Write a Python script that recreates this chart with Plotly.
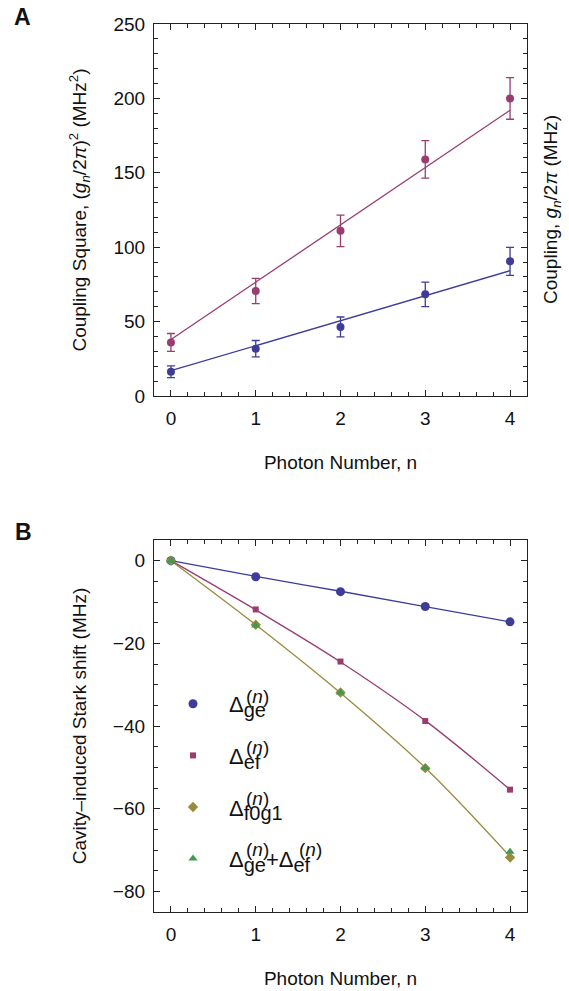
import plotly.graph_objects as go

# ---------------- data ----------------
n = [0, 1, 2, 3, 4]

# Panel A: coupling square (MHz^2)
g2_ef = [36.0, 70.6, 111.0, 159.0, 200.0]
g2_ef_err = [6.0, 8.5, 10.6, 12.6, 14.0]
g2_ef_fit = [38.0, 76.5, 115.0, 153.5, 192.0]
g2_ge = [16.3, 31.8, 46.4, 68.3, 90.5]
g2_ge_err = [4.0, 5.5, 6.7, 8.2, 9.4]
g2_ge_fit = [17.0, 33.8, 50.6, 67.4, 84.2]

# Panel B: cavity-induced Stark shift (MHz)
shift_ge = [0.0, -3.9, -7.5, -11.1, -14.8]
shift_ef = [0.0, -11.8, -24.4, -38.8, -55.4]
shift_f0g1 = [0.0, -15.5, -31.9, -50.2, -71.8]
shift_sum = [0.0, -15.7, -31.9, -50.1, -70.4]
fit_ge = [0.0, -3.8, -7.4, -11.1, -14.8]
fit_ef = [0.0, -11.9, -24.5, -38.7, -55.4]
fit_f0g1 = [0.0, -15.5, -32.0, -50.1, -71.6]

xticks = [0, 1, 2, 3, 4]
yticks_a = [0, 50, 100, 150, 200, 250]
yticks_b = [0, -20, -40, -60, -80]

BLUE = "#3d3d99"
MAG = "#993d71"
GOLD = "#998b3d"
GREEN = "#3d9954"
FONT = "Liberation Sans, Arial, Helvetica, sans-serif"
W, H = 569, 991

fig = go.Figure()

# Panel A
fig.add_trace(go.Scatter(x=n, y=g2_ef_fit, mode="lines", line=dict(color=MAG, width=1.3),
                         showlegend=False, xaxis="x", yaxis="y"))
fig.add_trace(go.Scatter(x=n, y=g2_ge_fit, mode="lines", line=dict(color=BLUE, width=1.3),
                         showlegend=False, xaxis="x", yaxis="y"))
fig.add_trace(go.Scatter(x=n, y=g2_ef, mode="markers", marker=dict(color=MAG, size=8),
                         error_y=dict(type="data", array=g2_ef_err, color=MAG, thickness=1.3, width=4),
                         showlegend=False, xaxis="x", yaxis="y"))
fig.add_trace(go.Scatter(x=n, y=g2_ge, mode="markers", marker=dict(color=BLUE, size=8),
                         error_y=dict(type="data", array=g2_ge_err, color=BLUE, thickness=1.3, width=4),
                         showlegend=False, xaxis="x", yaxis="y"))

# Panel B fit curves
for yy, c in [(fit_ge, BLUE), (fit_ef, MAG), (fit_f0g1, GOLD)]:
    fig.add_trace(go.Scatter(x=n, y=yy, mode="lines", line=dict(color=c, width=1.3, shape="spline"),
                             showlegend=False, xaxis="x2", yaxis="y2"))

SUB = '<sub><span style="font-size:20px">{}</span></sub>'

# Panel B markers (legend)
fig.add_trace(go.Scatter(x=n, y=shift_ge, mode="markers", name="Δ" + SUB.format("ge"),
                         marker=dict(color=BLUE, size=9, symbol="circle"),
                         legendgroup="a", xaxis="x2", yaxis="y2"))
fig.add_trace(go.Scatter(x=n, y=shift_ef, mode="markers", name="Δ" + SUB.format("ef"),
                         marker=dict(color=MAG, size=6, symbol="square"),
                         legendgroup="b", xaxis="x2", yaxis="y2"))
fig.add_trace(go.Scatter(x=n, y=shift_f0g1, mode="markers", name="Δ" + SUB.format("f0g1"),
                         marker=dict(color=GOLD, size=8, symbol="diamond"),
                         legendgroup="c", xaxis="x2", yaxis="y2"))
fig.add_trace(go.Scatter(x=n, y=shift_sum, mode="markers",
                         name="Δ" + SUB.format("ge") + "+Δ" + SUB.format("ef"),
                         marker=dict(color=GREEN, size=8, symbol="triangle-up"),
                         legendgroup="d", xaxis="x2", yaxis="y2"))

def px(x):
    return x / W

def py(y):
    return 1 - y / H

axis_common = dict(
    showline=True, linecolor="#222", linewidth=1.2, mirror="ticks",
    ticks="inside", ticklen=6, tickwidth=1, tickcolor="#222",
    showgrid=False, zeroline=False, automargin=False,
    tickfont=dict(family=FONT, size=19, color="#111"),
)

fig.update_layout(
    width=W, height=H,
    margin=dict(l=0, r=0, t=0, b=0, autoexpand=False),
    paper_bgcolor="white", plot_bgcolor="white",
    font=dict(family=FONT, size=19, color="#111"),
    xaxis=dict(domain=[px(154), px(527)], range=[-0.2, 4.2], anchor="y",
               tickvals=xticks, ticklabelstandoff=5,
               minor=dict(dtick=0.2, ticklen=3.5, ticks="inside", tickcolor="#222"),
               title=dict(text="Photon Number, n", standoff=27, font=dict(size=19)),
               **axis_common),
    yaxis=dict(domain=[py(396), py(24)], range=[0, 250], anchor="x",
               tickvals=yticks_a, ticklabelstandoff=4,
               minor=dict(dtick=10, ticklen=3.5, ticks="inside", tickcolor="#222"),
               title=dict(text="Coupling Square, (<i>g<sub>n</sub></i>/2<i>π</i>)<sup>2</sup> (MHz<sup>2</sup>)",
                          standoff=21, font=dict(size=19)),
               **axis_common),
    xaxis2=dict(domain=[px(154), px(527)], range=[-0.2, 4.2], anchor="y2",
                tickvals=xticks, ticklabelstandoff=5,
                minor=dict(dtick=0.2, ticklen=3.5, ticks="inside", tickcolor="#222"),
                title=dict(text="Photon Number, n", standoff=27, font=dict(size=19)),
                **axis_common),
    yaxis2=dict(domain=[py(912), py(540)], range=[-85, 5], anchor="x2",
                tickvals=yticks_b, ticklabelstandoff=4,
                minor=dict(dtick=5, tick0=0, ticklen=3.5, ticks="inside", tickcolor="#222"),
                title=dict(text="Cavity–induced Stark shift (MHz)", standoff=21, font=dict(size=19)),
                **axis_common),
    legend=dict(x=px(157), y=py(683), xanchor="left", yanchor="top", itemwidth=62,
                font=dict(family=FONT, size=22, color="#111"),
                bgcolor="rgba(0,0,0,0)", tracegroupgap=20),
)

ann = [
    dict(text="<b>A</b>", x=px(12), y=py(17), xanchor="left", yanchor="middle", font=dict(size=23)),
    dict(text="<b>B</b>", x=px(13), y=py(532), xanchor="left", yanchor="middle", font=dict(size=23)),
    dict(text="Coupling, <i>g<sub>n</sub></i>/2<i>π</i> (MHz)", x=px(552), y=py(210),
         xanchor="center", yanchor="middle", textangle=-90, font=dict(size=19)),
    dict(text="(<i>n</i>)", x=px(257), y=py(696), xanchor="center", yanchor="middle", font=dict(size=19)),
    dict(text="(<i>n</i>)", x=px(257), y=py(747), xanchor="center", yanchor="middle", font=dict(size=19)),
    dict(text="(<i>n</i>)", x=px(257), y=py(798), xanchor="center", yanchor="middle", font=dict(size=19)),
    dict(text="(<i>n</i>)", x=px(257), y=py(849), xanchor="center", yanchor="middle", font=dict(size=19)),
    dict(text="(<i>n</i>)", x=px(310), y=py(849), xanchor="center", yanchor="middle", font=dict(size=19)),
]
for a in ann:
    a.update(xref="paper", yref="paper", showarrow=False)
    a["font"] = dict(family=FONT, color="#111", **a["font"])
fig.update_layout(annotations=ann)

fig.write_html("out.html", config={"displayModeBar": False},
               post_script="document.body.style.margin='0px';document.body.style.overflow='hidden';")
